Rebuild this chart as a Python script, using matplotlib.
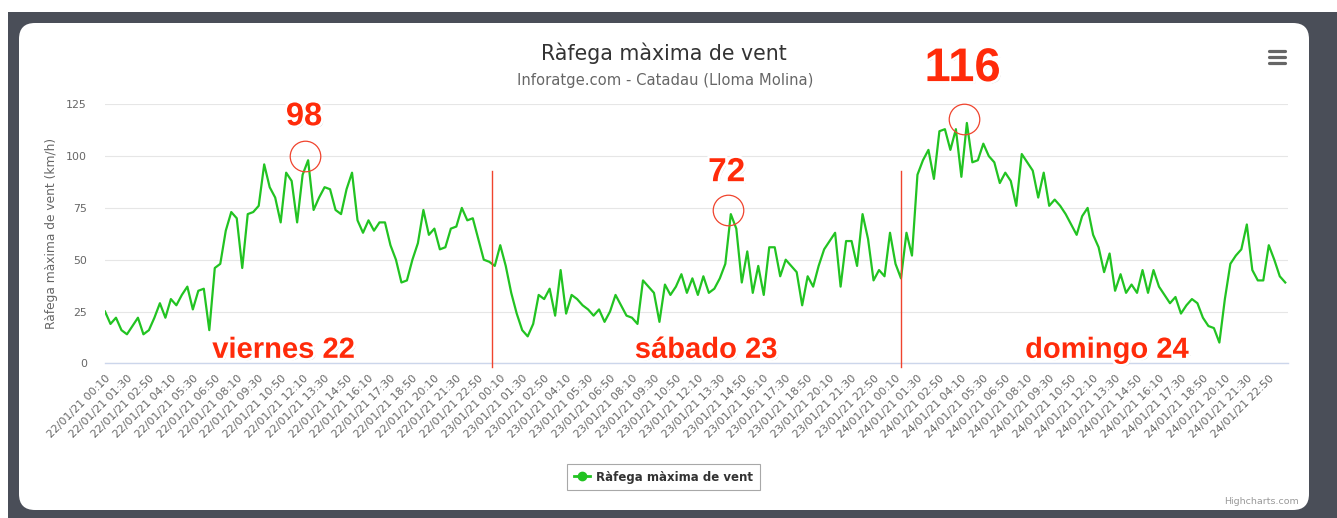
import numpy as np
import pandas as pd
import matplotlib
matplotlib.use("Agg")
from matplotlib import pyplot as plt
from matplotlib import patheffects as pe
from matplotlib.patches import FancyBboxPatch, Rectangle
from matplotlib.lines import Line2D

# max wind gust (km/h), one reading every 20 min, one list per day
gust_fri = [25, 19, 22, 16, 14, 18, 22, 14, 16, 22,
            29, 22, 31, 28, 33, 37, 26, 35, 36, 16,
            46, 48, 64, 73, 70, 46, 72, 73, 76, 96,
            85, 80, 68, 92, 88, 68, 91, 98, 74, 80,
            85, 84, 74, 72, 84, 92, 69, 63, 69, 64,
            68, 68, 57, 50, 39, 40, 50, 58, 74, 62,
            65, 55, 56, 65, 66, 75, 69, 70, 60, 50,
            49, 47]
gust_sat = [57, 47, 34, 24, 16, 13, 19, 33, 31, 36,
            23, 45, 24, 33, 31, 28, 26, 23, 26, 20,
            25, 33, 28, 23, 22, 19, 40, 37, 34, 20,
            38, 33, 37, 43, 34, 41, 33, 42, 34, 36,
            41, 48, 72, 65, 39, 54, 34, 47, 33, 56,
            56, 42, 50, 47, 44, 28, 42, 37, 47, 55,
            59, 63, 37, 59, 59, 47, 72, 60, 40, 45,
            42, 63]
gust_sun = [48, 41, 63, 52, 91, 98, 103, 89, 112, 113,
            103, 113, 90, 116, 97, 98, 106, 100, 97, 87,
            92, 88, 76, 101, 97, 93, 80, 92, 76, 79,
            76, 72, 67, 62, 71, 75, 62, 56, 44, 53,
            35, 43, 34, 38, 34, 45, 34, 45, 37, 33,
            29, 32, 24, 28, 31, 29, 22, 18, 17, 10,
            31, 48, 52, 55, 67, 45, 40, 40, 57, 50,
            42, 39]
first_time = "2021-01-22 00:10"
day_names = ["viernes 22", "sábado 23", "domingo 24"]

# hand-drawn marks on the screenshot, in 10-minute slots from the first reading
day_name_slot = [65, 219, 365]
day_split_slot = [141, 290]

GREEN = "#22c322"
RED = "#ff2b0a"
LINE_RED = "#f0442e"

days = [gust_fri, gust_sat, gust_sun]
gust = np.array(gust_fri + gust_sat + gust_sun)
times = pd.date_range(first_time, periods=len(gust), freq="20min")
slot = np.asarray((times - times[0]) / pd.Timedelta("10min"))

fig = plt.figure(figsize=(13.37, 5.18), dpi=100)

# screenshot frame: dark border with white rounded card
bg = fig.add_axes([0, 0, 1, 1])
bg.set_xlim(0, 1337)
bg.set_ylim(518, 0)
bg.axis("off")
bg.add_patch(Rectangle((8, 12), 1329, 506, color="#4a4e58", lw=0))
bg.add_patch(FancyBboxPatch((19, 23), 1290, 487,
                            boxstyle="round,pad=0,rounding_size=16",
                            fc="white", ec="none"))
for yy in (51, 57, 63):
    bg.plot([1269, 1285], [yy, yy], color="#666666", lw=2.3,
            solid_capstyle="round")

ax = fig.add_axes([105 / 1337, 1 - 363.3 / 518, 1183 / 1337, 259 / 518])
ax.patch.set_alpha(0)
ax.plot(slot, gust, color=GREEN, lw=1.6, solid_joinstyle="round", zorder=3)

ax.set_xlim(0, 431)
ax.set_ylim(0, 125)
ax.set_yticks(np.arange(0, 126, 25))
ax.yaxis.grid(True, color="#e6e6e6", lw=0.8)
ax.set_axisbelow(True)
for side in ("top", "right", "left"):
    ax.spines[side].set_visible(False)
ax.spines["bottom"].set_color("#ccd6eb")
ax.spines["bottom"].set_linewidth(1.0)

ax.set_xticks(slot[::4])
ax.set_xticklabels([t.strftime("%d/%m/%y %H:%M") for t in times[::4]],
                   rotation=45, ha="right", va="top", rotation_mode="anchor")
ax.tick_params(axis="x", length=0, pad=7, labelsize=7.9, labelcolor="#666666")
ax.tick_params(axis="y", length=0, pad=13, labelsize=7.9, labelcolor="#666666")
ax.set_ylabel("Ràfega màxima de vent (km/h)", fontsize=8.8, color="#666666",
              labelpad=6)

fig.text(664 / 1337, 1 - 53 / 518, "Ràfega màxima de vent", ha="center",
         va="center", fontsize=14.8, color="#333333")
fig.text(665 / 1337, 1 - 80 / 518, "Inforatge.com - Catadau (Lloma Molina)",
         ha="center", va="center", fontsize=10.6, color="#666666")
fig.text(1299 / 1337, 1 - 502 / 518, "Highcharts.com", ha="right",
         va="center", fontsize=6.8, color="#999999")

leg = fig.legend(handles=[Line2D([], [], color=GREEN, lw=2, marker="o", ms=6)],
                 labels=["Ràfega màxima de vent"], loc="center",
                 bbox_to_anchor=(663.5 / 1337, 1 - 477 / 518),
                 frameon=True, fancybox=False, edgecolor="#a8a8a8",
                 framealpha=1, handlelength=1.4, handletextpad=0.5,
                 borderpad=0.55, prop={"weight": "bold", "size": 8.5})
leg.get_frame().set_linewidth(0.8)
for txt in leg.get_texts():
    txt.set_color("#333333")

# hand-made annotations: day names, separators, circled daily maxima
halo = [pe.SimplePatchShadow(offset=(1.5, -1.5), shadow_rgbFace="#777777",
                             alpha=0.45),
        pe.withStroke(linewidth=4, foreground="white")]

for name, xs in zip(day_names, day_name_slot):
    ax.text(xs, 6.5, name, ha="center", va="center", color=RED,
            fontsize=21, fontweight="bold", family="Liberation Sans",
            path_effects=halo, zorder=5)

for xs in day_split_slot:
    ax.plot([xs, xs], [93, -2], color=LINE_RED, lw=1.0, clip_on=False,
            zorder=4)

offset = 0
for day, fs, lift in zip(days, [23.5, 24, 34], [21, 20, 26]):
    k = offset + int(np.argmax(day))
    peak = gust[k]
    ax.plot([slot[k] - 1], [peak + 2], marker="o", ms=22, mfc="none",
            mec=LINE_RED, mew=0.9, clip_on=False, zorder=4)
    ax.text(slot[k] - 1.5, peak + lift, str(peak), ha="center", va="center",
            color=RED, fontsize=fs, fontweight="bold",
            family="Liberation Sans", path_effects=halo, zorder=5)
    offset += len(day)

fig.savefig("out.png", dpi=100)
